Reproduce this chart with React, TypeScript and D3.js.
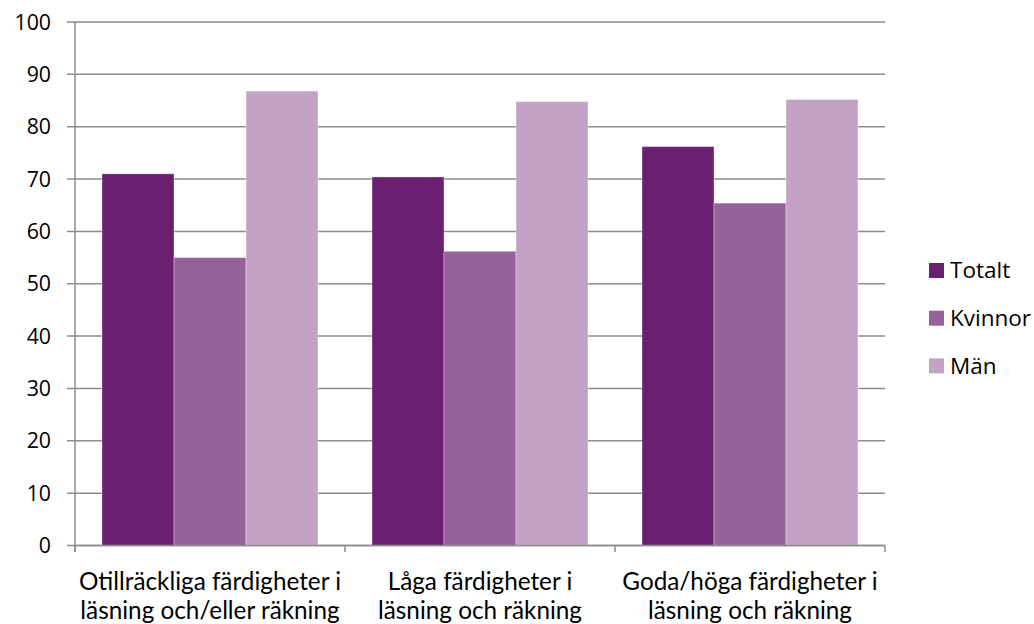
import React from "react";
import * as d3 from "d3";

const categories = [
  ["Otillräckliga färdigheter i", "läsning och/eller räkning"],
  ["Låga färdigheter i", "läsning och räkning"],
  ["Goda/höga färdigheter i", "läsning och räkning"],
];
const seriesNames = ["Totalt", "Kvinnor", "Män"];
const totalt = [71.0, 70.4, 76.2];
const kvinnor = [55.0, 56.2, 65.4];
const man = [86.8, 84.8, 85.2];
const yTicks = [0, 10, 20, 30, 40, 50, 60, 70, 80, 90, 100];
const colors = ["#6A1F71", "#97629A", "#C4A2C6"];

const W = 1034;
const H = 624;
const left = 75;
const right = 885;
const top = 22;
const bottom = 545.5;
const FONT = "'Open Sans', Lato, sans-serif";
const CAT_FONT = "Lato, 'Open Sans', sans-serif";
const FS_TICK = 21.3;
const FS_CAT = 24.3;
const FS_LEG = 22.5;

export default function App() {
  const series = [totalt, kvinnor, man];
  const y = d3.scaleLinear().domain([0, 100]).range([bottom, top]);
  const x0 = d3
    .scaleBand<number>()
    .domain(categories.map((_, i) => i))
    .range([left, right])
    .paddingInner(0)
    .paddingOuter(0);
  const groupInner = 0.8; // 75% gap width relative to bar
  const x1 = d3
    .scaleBand<number>()
    .domain(seriesNames.map((_, i) => i))
    .range([0, x0.bandwidth() * groupInner]);
  const offset = (x0.bandwidth() * (1 - groupInner)) / 2;
  const grid = "#8C8C8C";
  const boundaries = d3.range(categories.length + 1).map((i) =>
    i < categories.length ? (x0(i) as number) : right
  );

  return (
    <div style={{ position: "absolute", left: 0, top: 0 }}>
      <svg width={W} height={H} style={{ display: "block", background: "#fff" }}>
        {yTicks.map((t) => (
          <g key={t}>
            <line x1={67} x2={right} y1={y(t)} y2={y(t)} stroke={grid} strokeWidth={1.5} />
            <text
              x={51}
              y={y(t)}
              dy="0.36em"
              textAnchor="end"
              fontFamily={FONT}
              fontSize={FS_TICK}
              fill="#000"
            >
              {t}
            </text>
          </g>
        ))}
        {series.map((vals, s) =>
          vals.map((v, i) => (
            <rect
              key={`${s}-${i}`}
              x={(x0(i) as number) + offset + (x1(s) as number)}
              y={y(v)}
              width={x1.bandwidth()}
              height={bottom - y(v)}
              fill={colors[s]}
              stroke="rgba(255,255,255,0.35)"
              strokeWidth={1}
            />
          ))
        )}
        <line x1={left} x2={left} y1={top} y2={552} stroke={grid} strokeWidth={1.5} />
        <line x1={left} x2={right} y1={bottom} y2={bottom} stroke={grid} strokeWidth={1.5} />
        {boundaries.map((bx, i) => (
          <line key={i} x1={bx} x2={bx} y1={bottom} y2={552} stroke={grid} strokeWidth={1.5} />
        ))}
        {categories.map((lines, i) =>
          lines.map((l, j) => (
            <text
              key={`${i}-${j}`}
              x={(x0(i) as number) + x0.bandwidth() / 2}
              y={589.5 + j * 29.3}
              textAnchor="middle"
              fontFamily={CAT_FONT}
              fontSize={FS_CAT}
              fill="#000"
            >
              {l}
            </text>
          ))
        )}
        {seriesNames.map((n, s) => (
          <g key={n} transform={`translate(929, ${263 + s * 47.7})`}>
            <rect x={0} y={0} width={15} height={15} fill={colors[s]} />
            <text x={21} y={7.5} dy="0.34em" fontFamily={FONT} fontSize={FS_LEG} fill="#000">
              {n}
            </text>
          </g>
        ))}
      </svg>
    </div>
  );
}
